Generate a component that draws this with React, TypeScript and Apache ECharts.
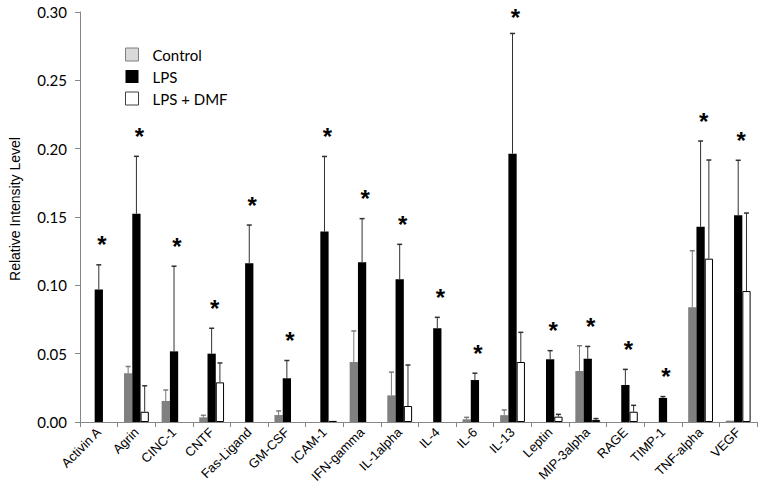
import React, { useEffect, useRef } from "react";
import * as echarts from "echarts";

const categories = [
  "Activin A", "Agrin", "CINC-1", "CNTF", "Fas-Ligand", "GM-CSF", "ICAM-1",
  "IFN-gamma", "IL-1alpha", "IL-4", "IL-6", "IL-13", "Leptin", "MIP-3alpha",
  "RAGE", "TIMP-1", "TNF-alpha", "VEGF",
];
const controlValues = [0, 0.0356, 0.0154, 0.0034, 0, 0.0051, 0, 0.0439, 0.0195, 0, 0.002, 0.005, 0, 0.0373, 0, 0, 0.0839, 0.001];
const controlErrors = [0, 0.005, 0.008, 0.0015, 0, 0.003, 0, 0.0227, 0.017, 0, 0.0014, 0.0038, 0, 0.0185, 0, 0, 0.0414, 0];
const lpsValues = [0.097, 0.1524, 0.0517, 0.05, 0.1161, 0.032, 0.1393, 0.1168, 0.1044, 0.0686, 0.0307, 0.1963, 0.0459, 0.0463, 0.0271, 0.0176, 0.1429, 0.1512];
const lpsErrors = [0.018, 0.042, 0.0623, 0.0186, 0.028, 0.013, 0.055, 0.032, 0.0256, 0.008, 0.005, 0.088, 0.0063, 0.009, 0.0114, 0.001, 0.0627, 0.0403];
const dmfValues = [0, 0.0075, 0, 0.029, 0, 0, 0.0008, 0, 0.0117, 0, 0, 0.0439, 0.0039, 0.0015, 0.0075, 0, 0.1195, 0.0958];
const dmfErrors = [0, 0.019, 0, 0.0142, 0, 0, 0, 0, 0.03, 0, 0, 0.0217, 0.0017, 0.001, 0.0047, 0, 0.0722, 0.0571];
const significant = [true, true, true, true, true, true, true, true, true, true, true, true, true, true, true, true, true, true];
const yTicks = [0, 0.05, 0.1, 0.15, 0.2, 0.25, 0.3];

const BAR_FRAC = 0.22;

const hideZero = (arr: number[]) => arr.map((v) => (v === 0 ? "-" : v));

function errorSeries(name: string, values: number[], errors: number[], offset: number, color: string) {
  return {
    type: "custom",
    name: name + " err",
    z: 5,
    silent: true,
    data: values.map((v, i) => [i, v, errors[i]]),
    encode: { x: 0, y: 1 },
    renderItem: (params: any, api: any) => {
      const i = api.value(0);
      const v = api.value(1);
      const e = api.value(2);
      if (!e) return { type: "group", children: [] };
      const band = api.size([1, 0])[0];
      const bw = band * BAR_FRAC;
      const c = api.coord([i, v]);
      const t = api.coord([i, v + e]);
      const x = c[0] + offset * bw;
      return {
        type: "group",
        children: [
          { type: "line", shape: { x1: x, y1: c[1], x2: x, y2: t[1] }, style: { stroke: color, lineWidth: 1 } },
          { type: "line", shape: { x1: x - 2.5, y1: t[1], x2: x + 2.5, y2: t[1] }, style: { stroke: color, lineWidth: 1.5 } },
        ],
      };
    },
  };
}

export default function App() {
  const ref = useRef<HTMLDivElement>(null);
  useEffect(() => {
    document.body.style.margin = "0";
    const chart = echarts.init(ref.current!, null, { renderer: "svg" });
    chart.setOption({
      animation: false,
      backgroundColor: "#ffffff",
      grid: { left: 77, right: 5, top: 12, bottom: 72 },
      legend: {
        orient: "vertical",
        left: 120,
        top: 42,
        itemWidth: 13,
        itemHeight: 13,
        itemGap: 7,
        icon: "rect",
        textStyle: { fontFamily: "Lato", fontSize: 15, color: "#000", padding: [0, 0, 0, 9] },
        data: [
          { name: "Control", itemStyle: { color: "#d9d9d9", borderColor: "#7f7f7f", borderWidth: 1 } },
          { name: "LPS", itemStyle: { color: "#000000", borderWidth: 0 } },
          { name: "LPS + DMF", itemStyle: { color: "#ffffff", borderColor: "#404040", borderWidth: 1 } },
        ],
      },
      xAxis: {
        type: "category",
        data: categories,
        axisLine: { lineStyle: { color: "#868686" } },
        axisTick: { show: true, interval: 0, length: 5, lineStyle: { color: "#868686" } },
        axisLabel: {
          interval: 0,
          rotate: 45,
          fontFamily: "Liberation Sans",
          fontSize: 13,
          color: "#000",
          margin: 8,
        },
      },
      yAxis: {
        type: "value",
        min: 0,
        max: 0.3,
        interval: 0.05,
        name: "Relative Intensity Level",
        nameLocation: "middle",
        nameGap: 58,
        nameTextStyle: { fontFamily: "Liberation Sans", fontSize: 14, color: "#000", padding: [0, 0, 0, 16] },
        axisLine: { show: true, lineStyle: { color: "#868686" } },
        axisTick: { show: true, length: 5, lineStyle: { color: "#868686" } },
        splitLine: { show: false },
        axisLabel: {
          fontFamily: "Lato",
          fontSize: 15,
          color: "#000",
          margin: 13,
          formatter: (v: number) => (yTicks.includes(Math.round(v * 100) / 100) ? v.toFixed(2) : ""),
        },
      },
      series: [
        {
          type: "bar",
          name: "Control",
          data: hideZero(controlValues),
          barWidth: BAR_FRAC * 100 + "%",
          barGap: "0%",
          itemStyle: { color: "#808080" },
        },
        {
          type: "bar",
          name: "LPS",
          data: hideZero(lpsValues),
          barWidth: BAR_FRAC * 100 + "%",
          barGap: "0%",
          itemStyle: { color: "#000000" },
        },
        {
          type: "bar",
          name: "LPS + DMF",
          data: hideZero(dmfValues),
          barWidth: BAR_FRAC * 100 + "%",
          barGap: "0%",
          itemStyle: { color: "#ffffff", borderColor: "#000000", borderWidth: 1 },
        },
        errorSeries("Control", controlValues, controlErrors, -1, "#7a7a7a"),
        errorSeries("LPS", lpsValues, lpsErrors, 0, "#303030"),
        errorSeries("LPS + DMF", dmfValues, dmfErrors, 1, "#303030"),
        {
          type: "custom",
          name: "significance",
          z: 6,
          silent: true,
          data: lpsValues.map((v, i) => [i, v + lpsErrors[i], significant[i] ? 1 : 0]),
          encode: { x: 0, y: 1 },
          renderItem: (params: any, api: any) => {
            if (!api.value(2)) return { type: "group", children: [] };
            const p = api.coord([api.value(0), api.value(1)]);
            return {
              type: "text",
              x: p[0] + 3,
              y: Math.max(p[1] - 20, 17),
              style: {
                text: "*",
                fontFamily: "Liberation Sans",
                fontSize: 24,
                fontWeight: "bold",
                fill: "#000",
                align: "center",
                verticalAlign: "middle",
              },
            };
          },
        },
      ],
    });
    return () => chart.dispose();
  }, []);
  return <div ref={ref} style={{ width: 762, height: 494 }} />;
}
